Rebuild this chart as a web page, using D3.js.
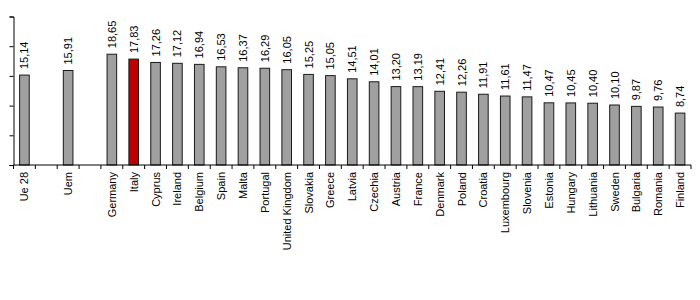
<!DOCTYPE html>
<html>
<head>
<meta charset="utf-8">
<script src="https://cdn.jsdelivr.net/npm/d3@7"></script>
<style>
  body { margin: 0; background: #fff; }
  svg { display: block; }
</style>
</head>
<body>
<div id="chart"></div>
<script>
// slots with "" are empty gaps between the aggregates and the countries
const categories = ["Ue 28", "", "Uem", "", "Germany", "Italy", "Cyprus", "Ireland", "Belgium", "Spain",
  "Malta", "Portugal", "United Kingdom", "Slovakia", "Greece", "Latvia", "Czechia", "Austria", "France",
  "Denmark", "Poland", "Croatia", "Luxembourg", "Slovenia", "Estonia", "Hungary", "Lithuania", "Sweden",
  "Bulgaria", "Romania", "Finland"];
const values = [15.14, null, 15.91, null, 18.65, 17.83, 17.26, 17.12, 16.94, 16.53,
  16.37, 16.29, 16.05, 15.25, 15.05, 14.51, 14.01, 13.20, 13.19,
  12.41, 12.26, 11.91, 11.61, 11.47, 10.47, 10.45, 10.40, 10.10,
  9.87, 9.76, 8.74];
const highlight = "Italy";
const yTicks = [0, 5, 10, 15, 20, 25];

const width = 700, height = 300;
const margin = {top: 16.5, right: 9, bottom: 135, left: 13.5};

const svg = d3.select("#chart").append("svg")
  .attr("width", width)
  .attr("height", height)
  .attr("font-family", "Liberation Sans, Arial, sans-serif")
  .attr("font-size", 11);

const x = d3.scaleBand()
  .domain(d3.range(categories.length))
  .range([margin.left, width - margin.right])
  .paddingInner(0.56)
  .paddingOuter(0.28);

const y = d3.scaleLinear()
  .domain([0, 25])
  .range([height - margin.bottom, margin.top]);

const data = categories.map((c, i) => ({i, c, v: values[i]})).filter(d => d.v != null);

// bars
svg.append("g")
  .selectAll("rect")
  .data(data)
  .join("rect")
    .attr("x", d => x(d.i))
    .attr("y", d => y(d.v))
    .attr("width", x.bandwidth())
    .attr("height", d => y(0) - y(d.v))
    .attr("fill", d => d.c === highlight ? "#c00000" : "#a0a0a0")
    .attr("stroke", "#1a1a1a")
    .attr("stroke-width", 1);

// value labels
svg.append("g")
  .selectAll("text")
  .data(data)
  .join("text")
    .attr("transform", d => `translate(${x(d.i) + x.bandwidth() / 2 + 4},${y(d.v) - 6}) rotate(-90)`)
    .attr("text-anchor", "start")
    .attr("fill", "#000")
    .text(d => d.v.toFixed(2).replace(".", ","));

// y axis
const yAxis = svg.append("g")
  .attr("transform", `translate(${margin.left},0)`)
  .call(d3.axisLeft(y).tickValues(yTicks).tickSize(4).tickFormat(""));
yAxis.select(".domain").attr("stroke", "#000");
yAxis.selectAll(".tick line").attr("stroke", "#000");

// x axis: line with ticks at slot boundaries
const step = x.step();
const x0 = margin.left;
const bounds = d3.range(categories.length + 1).map(k => x0 + k * step);
const xAxis = svg.append("g");
xAxis.append("line")
  .attr("x1", margin.left).attr("x2", bounds[bounds.length - 1])
  .attr("y1", y(0)).attr("y2", y(0))
  .attr("stroke", "#000");
xAxis.selectAll(".tk")
  .data(bounds)
  .join("line")
    .attr("class", "tk")
    .attr("x1", d => d).attr("x2", d => d)
    .attr("y1", y(0)).attr("y2", y(0) + 4)
    .attr("stroke", "#000");

// category labels
svg.append("g")
  .selectAll("text")
  .data(data)
  .join("text")
    .attr("transform", d => `translate(${x(d.i) + x.bandwidth() / 2 + 4},${y(0) + 7}) rotate(-90)`)
    .attr("text-anchor", "end")
    .attr("fill", "#000")
    .text(d => d.c);
</script>
</body>
</html>
